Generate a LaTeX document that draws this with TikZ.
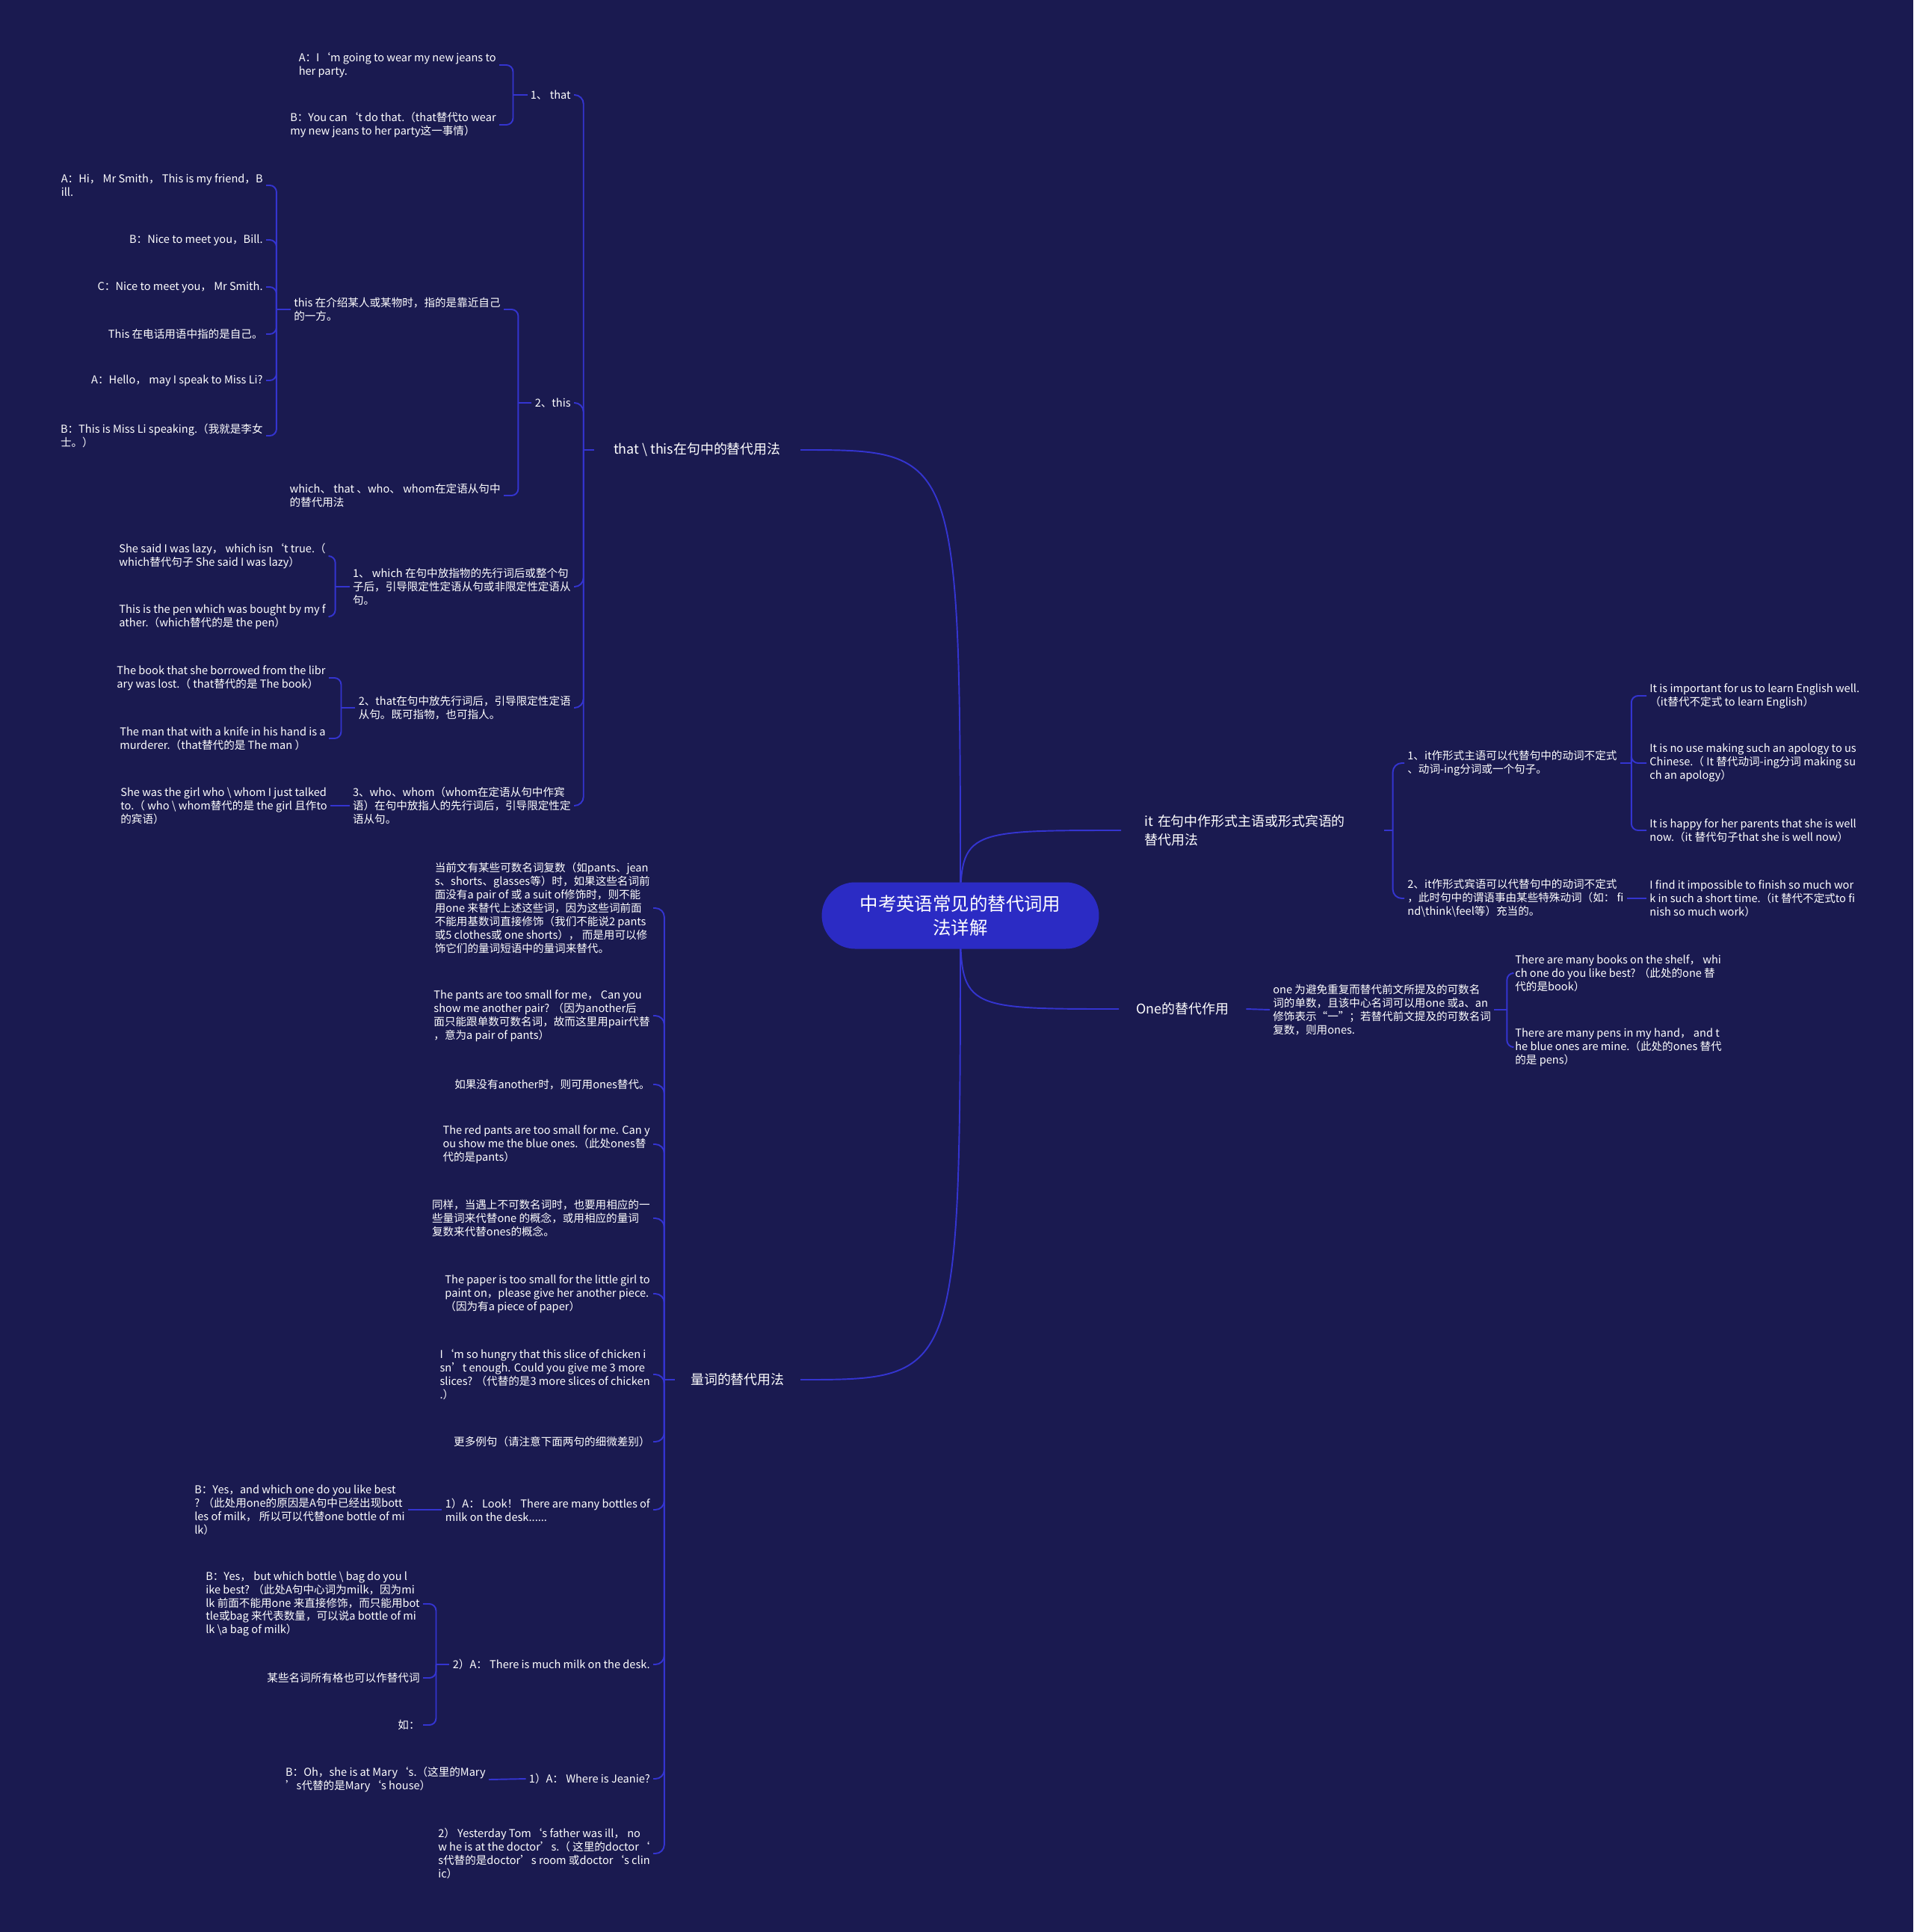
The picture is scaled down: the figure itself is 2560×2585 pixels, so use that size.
\documentclass[tikz,border=0pt]{standalone}
\usepackage{fontspec}
\setmainfont{Noto Sans CJK SC}
\usetikzlibrary{backgrounds}
\definecolor{bgnavy}{HTML}{1A1A50}
\definecolor{rootblue}{HTML}{2B2BC4}
\definecolor{linkblue}{HTML}{3434D0}
\newcommand\bs{\textbackslash{}}

\begin{document}
\begin{tikzpicture}[x=0.02cm, y=-0.02cm,
    root/.style={fill=rootblue, text=white, rounded corners=0.89cm, minimum width=7.42cm,
      minimum height=1.78cm, align=center, font=\fontsize{13.9}{18.2}\selectfont},
    topic/.style={text=white, inner ysep=0.08cm, align=left, font=\fontsize{10.2}{14.5}\selectfont},
    leaf/.style={text=white, inner sep=0.08cm, align=left, font=\fontsize{8.3}{10.24}\selectfont},
    link/.style={draw=linkblue, line width=1.1pt},
    bracket/.style={link, rounded corners=0.18cm},
    trunk/.style={link, rounded corners=0.24cm}]

    \node[root] (root) at (1285,1225) {中考英语常见的替代词用\\法详解};

    \node[topic, anchor=east, inner xsep=0.52cm] (tt) at (1071,602) {that \bs{} this在句中的替代用法};
    \node[topic, anchor=east, inner xsep=0.42cm] (lc) at (1071,1846) {量词的替代用法};
    \node[topic, anchor=west, inner xsep=0.62cm, text width=5.78cm] (it) at (1500,1111) {it 在句中作形式主语或形式宾语的\\替代用法};
    \node[topic, anchor=west, inner xsep=0.46cm] (one) at (1497,1350) {One的替代作用};

    % that \ this
    \node[leaf, anchor=east] (a1) at (768,127) {1、 that};
    \node[leaf, anchor=east] (a2) at (768,539) {2、this};
    \node[leaf, anchor=east] (a3) at (768,785) {1、 which 在句中放指物的先行词后或整个句\\子后，引导限定性定语从句或非限定性定语从\\句。};
    \node[leaf, anchor=east] (a4) at (768,947) {2、that在句中放先行词后，引导限定性定语\\从句。既可指物，也可指人。};
    \node[leaf, anchor=east] (a5) at (768,1078) {3、who、whom（whom在定语从句中作宾\\语）在句中放指人的先行词后，引导限定性定\\语从句。};

    \node[leaf, anchor=east] (a1x) at (668,87) {A：I‘m going to wear my new jeans to\\her party.};
    \node[leaf, anchor=east] (a1y) at (668,167) {B：You can‘t do that.（that替代to wear\\my new jeans to her party这一事情）};
    \node[leaf, anchor=east] (a2x) at (674,414) {this 在介绍某人或某物时，指的是靠近自己\\的一方。};
    \node[leaf, anchor=east] (a2y) at (674,663) {which、 that 、who、 whom在定语从句中\\的替代用法};

    \node[leaf, anchor=east] (b1) at (356,248) {A：Hi， Mr Smith， This is my friend，B\\ill.};
    \node[leaf, anchor=east] (b2) at (356,321) {B：Nice to meet you，Bill.};
    \node[leaf, anchor=east] (b3) at (356,384) {C：Nice to meet you， Mr Smith.};
    \node[leaf, anchor=east] (b4) at (356,447) {This 在电话用语中指的是自己。};
    \node[leaf, anchor=east] (b5) at (356,509) {A：Hello， may I speak to Miss Li?};
    \node[leaf, anchor=east] (b6) at (356,583) {B：This is Miss Li speaking.（我就是李女\\士。）};

    \node[leaf, anchor=east] (c1) at (440,744) {She said I was lazy， which isn‘t true.（\\which替代句子 She said I was lazy）};
    \node[leaf, anchor=east] (c2) at (440,825) {This is the pen which was bought by my f\\ather.（which替代的是 the pen）};
    \node[leaf, anchor=east] (c3) at (440,907) {The book that she borrowed from the libr\\ary was lost.（ that替代的是 The book）};
    \node[leaf, anchor=east] (c4) at (440,988) {The man that with a knife in his hand is a\\murderer.（that替代的是 The man ）};
    \node[leaf, anchor=east] (c5) at (442,1078) {She was the girl who \bs{} whom I just talked\\to.（ who \bs{} whom替代的是 the girl 且作to\\的宾语）};

    % 量词
    \node[leaf, anchor=east] (d1) at (874,1215) {当前文有某些可数名词复数（如pants、jean\\s、shorts、glasses等）时，如果这些名词前\\面没有a pair of 或 a suit of修饰时，则不能\\用one 来替代上述这些词，因为这些词前面\\不能用基数词直接修饰（我们不能说2 pants\\或5 clothes或 one shorts），  而是用可以修\\饰它们的量词短语中的量词来替代。};
    \node[leaf, anchor=east] (d2) at (874,1359) {The pants are too small for me， Can you\\show me another pair?  （因为another后\\面只能跟单数可数名词，故而这里用pair代替\\，意为a pair of pants）};
    \node[leaf, anchor=east] (d3) at (874,1451) {如果没有another时，则可用ones替代。};
    \node[leaf, anchor=east] (d4) at (874,1531) {The red pants are too small for me. Can y\\ou show me the blue ones.（此处ones替\\代的是pants）};
    \node[leaf, anchor=east] (d5) at (874,1630) {同样，当遇上不可数名词时，也要用相应的一\\些量词来代替one 的概念，或用相应的量词\\复数来代替ones的概念。};
    \node[leaf, anchor=east] (d6) at (874,1731) {The paper is too small for the little girl to\\paint on，please give her another piece.\\（因为有a piece of paper）};
    \node[leaf, anchor=east] (d7) at (874,1839) {I‘m so hungry that this slice of chicken i\\sn’t enough. Could you give me 3 more\\slices?  （代替的是3 more slices of chicken\\.）};
    \node[leaf, anchor=east] (d8) at (874,1929) {更多例句（请注意下面两句的细微差别）};
    \node[leaf, anchor=east] (d9) at (874,2020) {1）A：  Look！  There are many bottles of\\milk on the desk......};
    \node[leaf, anchor=east] (d10) at (874,2227) {2）A：  There is much milk on the desk.};
    \node[leaf, anchor=east] (d11) at (874,2380) {1）A：  Where is Jeanie?};
    \node[leaf, anchor=east] (d12) at (874,2480) {2）  Yesterday Tom‘s father was ill，  no\\w he is at the doctor’s.（ 这里的doctor‘\\s代替的是doctor’s room 或doctor‘s clin\\ic）};

    \node[leaf, anchor=east] (e1) at (546,2020) {B：Yes，and which one do you like best\\?  （此处用one的原因是A句中已经出现bott\\les of milk， 所以可以代替one bottle of mi\\lk）};
    \node[leaf, anchor=east] (e2) at (566,2146) {B：Yes， but which bottle \bs{} bag do you l\\ike best?  （此处A句中心词为milk，因为mi\\lk 前面不能用one 来直接修饰，而只能用bot\\tle或bag 来代表数量，可以说a bottle of mi\\lk \bs{}a bag of milk）};
    \node[leaf, anchor=east] (e3) at (566,2245) {某些名词所有格也可以作替代词};
    \node[leaf, anchor=east] (e4) at (566,2308) {如：};
    \node[leaf, anchor=east] (e5) at (654,2381) {B：Oh，she is at Mary‘s.（这里的Mary\\’s代替的是Mary‘s house）};

    % it
    \node[leaf, anchor=west] (f1) at (1879,1021) {1、it作形式主语可以代替句中的动词不定式\\、动词-ing分词或一个句子。};
    \node[leaf, anchor=west] (f2) at (1879,1202) {2、it作形式宾语可以代替句中的动词不定式\\，此时句中的谓语事由某些特殊动词（如： fi\\nd\bs{}think\bs{}feel等）充当的。};
    \node[leaf, anchor=west] (g1) at (2203,931) {It is important for us to learn English well.\\（it替代不定式 to learn English）};
    \node[leaf, anchor=west] (g2) at (2203,1021) {It is no use making such an apology to us\\Chinese.（ It 替代动词-ing分词 making su\\ch an apology）};
    \node[leaf, anchor=west] (g3) at (2203,1111) {It is happy for her parents that she is well\\now.（it 替代句子that she is well now）};
    \node[leaf, anchor=west] (g4) at (2203,1202) {I find it impossible to finish so much wor\\k in such a short time.（it 替代不定式to fi\\nish so much work）};

    % one
    \node[leaf, anchor=west] (h1) at (1699,1351) {one 为避免重复而替代前文所提及的可数名\\词的单数，且该中心名词可以用one 或a、an\\修饰表示“一”；若替代前文提及的可数名词\\复数，则用ones.};
    \node[leaf, anchor=west] (i1) at (2023,1302) {There are many books on the shelf， whi\\ch one do you like best?  （此处的one 替\\代的是book）};
    \node[leaf, anchor=west] (i2) at (2023,1401) {There are many pens in my hand， and t\\he blue ones are mine.（此处的ones 替代\\的是 pens）};

    \begin{scope}[on background layer]
        \fill[bgnavy] (0,0) rectangle (2560,2585);
        \draw[link] (root.center) .. controls (root.center |- tt.east) and (root.center |- tt.east) .. (tt.east);
        \draw[link] (root.center) .. controls (root.center |- lc.east) and (root.center |- lc.east) .. (lc.east);
        \draw[link] (root.center) .. controls (root.center |- it.west) and (root.center |- it.west) .. (it.west);
        \draw[link] (root.center) .. controls (root.center |- one.west) and (root.center |- one.west) .. (one.west);
    \end{scope}

    \draw[link] (tt.west) -- ++(-14,0) coordinate (ttb);
    \foreach \c in {a1,a2,a3,a4,a5}
        \draw[trunk] (ttb) |- (\c.east);
    \draw[link] (lc.west) -- ++(-14,0) coordinate (lcb);
    \foreach \c in {d1,d2,d3,d4,d5,d6,d7,d8,d9,d10,d11,d12}
        \draw[trunk] (lcb) |- (\c.east);
    \draw[link] (it.east) -- ++(12,0) coordinate (itb);
    \foreach \c in {f1,f2}
        \draw[trunk] (itb) |- (\c.west);

    \draw[link] (a1.west) -- ++(-19,0) coordinate (a1b);
    \foreach \c in {a1x,a1y}
        \draw[bracket] (a1b) |- (\c.east);
    \draw[link] (a2.west) -- ++(-18,0) coordinate (a2b);
    \foreach \c in {a2x,a2y}
        \draw[bracket] (a2b) |- (\c.east);
    \draw[link] (a2x.west) -- ++(-19,0) coordinate (a2xb);
    \foreach \c in {b1,b2,b3,b4,b5,b6}
        \draw[bracket] (a2xb) |- (\c.east);
    \draw[link] (a3.west) -- ++(-19,0) coordinate (a3b);
    \foreach \c in {c1,c2}
        \draw[bracket] (a3b) |- (\c.east);
    \draw[link] (a4.west) -- ++(-19,0) coordinate (a4b);
    \foreach \c in {c3,c4}
        \draw[bracket] (a4b) |- (\c.east);
    \draw[link] (a5.west) -- (c5.east);

    \draw[link] (d9.west) -- (e1.east);
    \draw[link] (d10.west) -- ++(-18,0) coordinate (d10b);
    \foreach \c in {e2,e3,e4}
        \draw[bracket] (d10b) |- (\c.east);
    \draw[link] (d11.west) -- (e5.east);

    \draw[link] (f1.east) -- ++(15,0) coordinate (f1b);
    \foreach \c in {g1,g2,g3}
        \draw[bracket] (f1b) |- (\c.west);
    \draw[link] (f2.east) -- (g4.west);

    \draw[link] (one.east) -- (h1.west);
    \draw[link] (h1.east) -- ++(17,0) coordinate (h1b);
    \foreach \c in {i1,i2}
        \draw[bracket] (h1b) |- (\c.west);

\end{tikzpicture}
\end{document}
